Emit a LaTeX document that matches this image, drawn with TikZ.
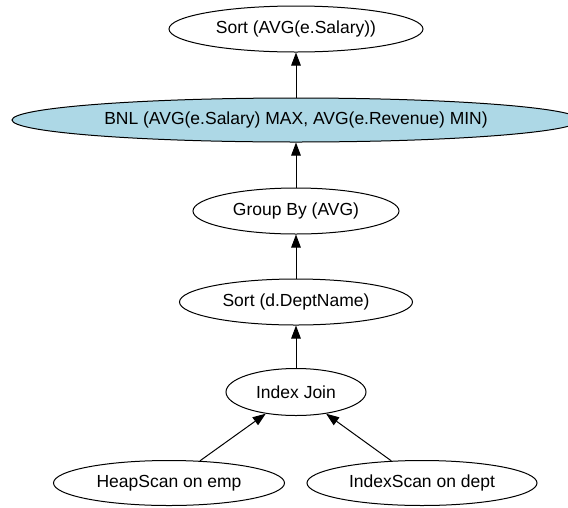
\documentclass[tikz,border=0pt]{standalone}
\usepackage{fontspec}
\setmainfont{Liberation Sans}
\usepackage{tikz}
\usetikzlibrary{shapes.geometric}
\usetikzlibrary{arrows.meta}
\definecolor{lightblue}{RGB}{173,216,230}

\begin{document}
\begin{tikzpicture}[x=1pt, y=-1pt, >={Triangle[length=13pt,width=9.5pt]}, line width=1pt]
			\tikzstyle{op}=[ellipse, draw=black, fill=white, inner sep=0pt, minimum height=46pt, font=\fontsize{17.5}{20}\selectfont]
			\useasboundingbox (0,0) rectangle (568,507);
			
			% Draw the plan operators
			\node[op, minimum width=254pt] (sortsal) at (296,29) {\makebox[0pt]{Sort (AVG(e.Salary))}};
			\node[op, fill=lightblue, minimum width=568pt, minimum height=44pt] (bnl) at (296,120) {\makebox[0pt]{BNL (AVG(e.Salary) MAX, AVG(e.Revenue) MIN)}};
			\node[op, minimum width=206pt] (groupby) at (296,211) {\makebox[0pt]{Group By (AVG)}};
			\node[op, minimum width=233pt] (sortdept) at (296,302) {\makebox[0pt]{Sort (d.DeptName)}};
			\node[op, minimum width=140pt, minimum height=47pt] (join) at (296,392) {\makebox[0pt]{Index Join}};
			\node[op, minimum width=231pt, minimum height=45pt] (heap) at (169,483) {\makebox[0pt]{HeapScan on emp}};
			\node[op, minimum width=230pt, minimum height=45pt] (idxscan) at (422,483) {\makebox[0pt]{IndexScan on dept}};
			
			% Draw arrows
			\path[->] (bnl) edge (sortsal);
			\path[->] (groupby) edge (bnl);
			\path[->] (sortdept) edge (groupby);
			\path[->] (join) edge (sortdept);
			\path[->] (heap) edge (join);
			\path[->] (idxscan) edge (join);
			
		\end{tikzpicture}
\end{document}
